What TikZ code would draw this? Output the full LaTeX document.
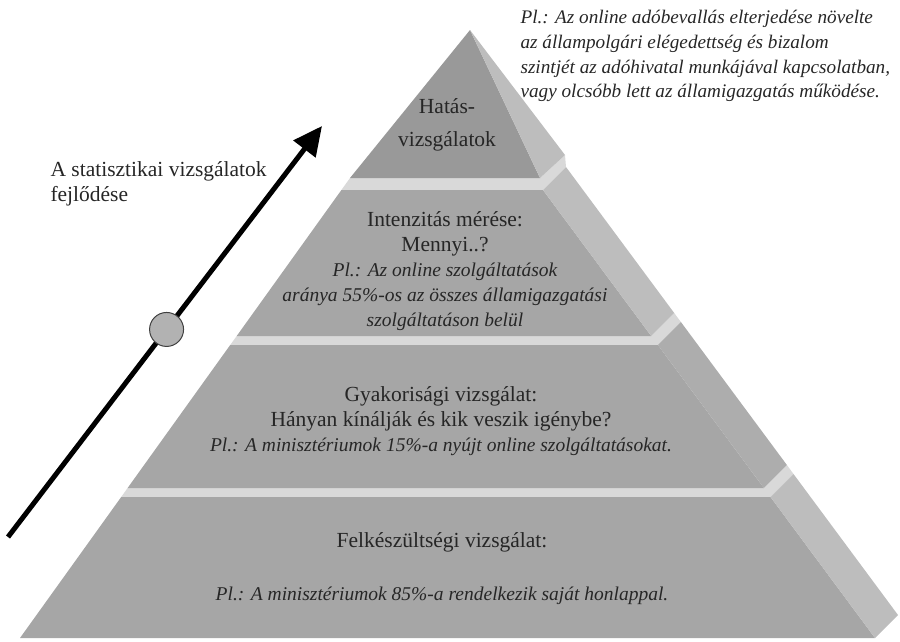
\documentclass[tikz,border=0pt]{standalone}
\usepackage{fontspec}
\setmainfont{Liberation Serif}
\usetikzlibrary{arrows.meta, calc}

\definecolor{frontgray}{gray}{0.65}
\definecolor{apexgray}{gray}{0.60}
\definecolor{sidegray}{gray}{0.74}
\definecolor{topgray}{gray}{0.85}

\newcommand{\exmp}[1]{{\fontsize{19.5}{25}\selectfont\itshape #1}}

\begin{document}
\begin{tikzpicture}[x=1pt, y=-1pt,
    front/.style={fill=frontgray},
    side/.style={fill=sidegray},
    topface/.style={fill=topgray},
    level/.style={text=black!85, align=center, font=\fontsize{21.5}{25}\selectfont},
    remark/.style={text=black!85, align=left, anchor=west}]

    \useasboundingbox (0,0) rectangle (900,641);

    % Corners of the tiers (front left, front right, back right)
    \coordinate (A) at (470,30);
    \coordinate (T1l) at (350,178);   \coordinate (T1r) at (540,178);   \coordinate (T1b) at (565,155);
    \coordinate (T2l) at (341.4,190); \coordinate (T2r) at (543,190);   \coordinate (T2b) at (566,167);
    \coordinate (B2l) at (236.7,336); \coordinate (B2r) at (651.2,336); \coordinate (B2b) at (674.2,313);
    \coordinate (T3l) at (230.2,345); \coordinate (T3r) at (657.9,345); \coordinate (T3b) at (680.9,322);
    \coordinate (B3l) at (127.6,488); \coordinate (B3r) at (763.9,488); \coordinate (B3b) at (786.9,465);
    \coordinate (T4l) at (121.2,497); \coordinate (T4r) at (770.5,497); \coordinate (T4b) at (793.5,474);
    \coordinate (B4l) at (20,638);    \coordinate (B4r) at (875,638);   \coordinate (B4b) at (898,615);

    % Top faces seen between the tiers
    \fill[topface] (T2l) -- (T2r) -- (T2b) -- (T1b) -- (T1r) -- (T1l) -- cycle;
    \fill[topface] (T3l) -- (T3r) -- (T3b) -- (B2b) -- (B2r) -- (B2l) -- cycle;
    \fill[topface] (T4l) -- (T4r) -- (T4b) -- (B3b) -- (B3r) -- (B3l) -- cycle;

    % Front faces
    \fill[apexgray] (A) -- (T1r) -- (T1l) -- cycle;
    \fill[front] (T2l) -- (T2r) -- (B2r) -- (B2l) -- cycle;
    \fill[front] (T3l) -- (T3r) -- (B3r) -- (B3l) -- cycle;
    \fill[front] (T4l) -- (T4r) -- (B4r) -- (B4l) -- cycle;

    % Side faces
    \fill[side] (A) -- (T1b) -- (T1r) -- cycle;
    \fill[side] (T2r) -- (T2b) -- (B2b) -- (B2r) -- cycle;
    \fill[frontgray!92!white] (T3r) -- (T3b) -- (B3b) -- (B3r) -- cycle;
    \fill[side] (T4r) -- (T4b) -- (B4b) -- (B4r) -- cycle;

    % Tier texts
    \node[level, font=\fontsize{21.5}{33}\selectfont] (impact) at (447,125) {Hatás-\\vizsgálatok};
    \node[level] (intensity) at (445,271)
        {Intenzitás mérése:\\Mennyi..?\\\exmp{Pl.: Az online szolgáltatások}\\
         \exmp{aránya 55\%-os az összes államigazgatási}\\\exmp{szolgáltatáson belül}};
    \node[level] (frequency) at (441,421)
        {Gyakorisági vizsgálat:\\Hányan kínálják és kik veszik igénybe?\\
         \exmp{Pl.: A minisztériumok 15\%-a nyújt online szolgáltatásokat.}};
    \node[level] (readiness) at (442,569)
        {Felkészültségi vizsgálat:\\[28pt]\exmp{Pl.: A minisztériumok 85\%-a rendelkezik saját honlappal.}};

    % Development arrow
    \coordinate (tail) at (8,537);
    \coordinate (tip) at (322,126);
    \draw[line width=5pt, -{Triangle[length=29pt, width=27pt]}] (tail) -- (tip);
    \node[circle, draw=black!75, line width=1pt, fill=black!30, minimum size=34pt, inner sep=0pt]
        (stage) at ($(tail)!0.505!(tip)$) {};

    % Labels
    \node[remark, font=\fontsize{21.5}{25}\selectfont] (trend) at (47,184) {A statisztikai vizsgálatok\\fejlődése};
    \node[remark, font=\fontsize{19.2}{24.8}\selectfont\itshape] (note) at (517,56)
        {Pl.: Az online adóbevallás elterjedése növelte\\az állampolgári elégedettség és bizalom\\
         szintjét az adóhivatal munkájával kapcsolatban,\\vagy olcsóbb lett az államigazgatás működése.};

\end{tikzpicture}
\end{document}
